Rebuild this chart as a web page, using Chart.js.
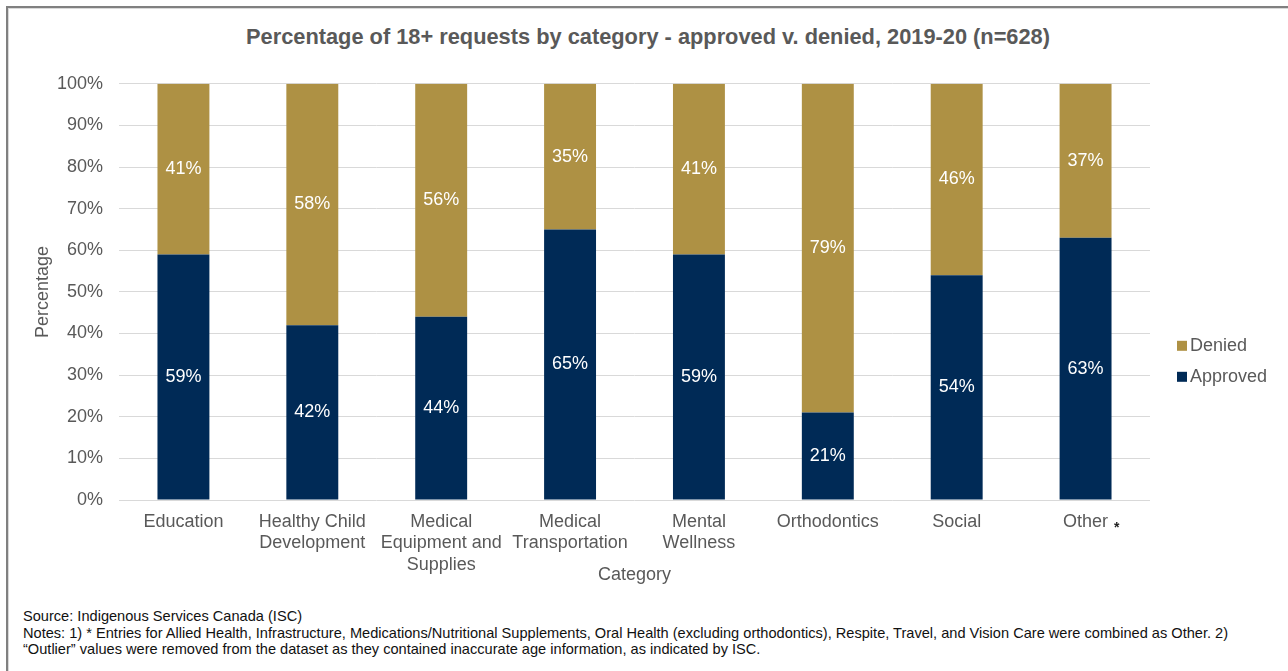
<!DOCTYPE html>
<html>
<head>
<meta charset="utf-8">
<script src="https://cdn.jsdelivr.net/npm/chart.js@4"></script>
<style>
    body { margin: 0; width: 1288px; height: 671px; overflow: hidden; background: #fff; font-family: "Liberation Sans", Arial, sans-serif; }
    #frame { position: absolute; left: 6px; top: 6px; width: 1300px; height: 700px; border-top: 2px solid #808080; border-left: 2px solid #808080; box-shadow: inset 1px 1px 0 #d9d9d9; }
    #title { position: absolute; top: 24px; left: 648px; transform: translateX(-50%); white-space: nowrap; font-size: 21.8px; font-weight: bold; color: #595959; }
    #chartBox { position: absolute; left: 8px; top: 57px; width: 1280px; height: 543px; }
    #notes { position: absolute; left: 23px; top: 608px; font-size: 14.6px; line-height: 16.5px; color: #111; white-space: nowrap; }
</style>
</head>
<body>
<div id="frame"></div>
<div id="title">Percentage of 18+ requests by category - approved v. denied, 2019-20 (n=628)</div>
<div id="chartBox"><canvas id="chart" width="1280" height="543"></canvas></div>
<div id="notes">
    Source: Indigenous Services Canada (ISC)<br>
    Notes: 1) * Entries for Allied Health, Infrastructure, Medications/Nutritional Supplements, Oral Health (excluding orthodontics), Respite, Travel, and Vision Care were combined as Other. 2)<br>
    “Outlier” values were removed from the dataset as they contained inaccurate age information, as indicated by ISC.
</div>
<script>
// Chart data
const categories = [
    'Education',
    ['Healthy Child', 'Development'],
    ['Medical', 'Equipment and', 'Supplies'],
    ['Medical', 'Transportation'],
    ['Mental', 'Wellness'],
    'Orthodontics',
    'Social',
    'Other'
];
const approved = [59, 42, 44, 65, 59, 21, 54, 63];
const denied = [41, 58, 56, 35, 41, 79, 46, 37];
const yTicks = [0, 10, 20, 30, 40, 50, 60, 70, 80, 90, 100];

const navy = '#002a56';
const gold = '#ae9144';
const grey = '#595959';
const fontFamily = '"Liberation Sans", Arial, sans-serif';

// White value labels in the middle of each segment
const segmentLabels = {
    id: 'segmentLabels',
    afterDatasetsDraw(chart) {
        const ctx = chart.ctx;
        ctx.save();
        ctx.fillStyle = '#ffffff';
        ctx.font = '18px ' + fontFamily;
        ctx.textAlign = 'center';
        ctx.textBaseline = 'middle';
        chart.data.datasets.forEach((ds, i) => {
            chart.getDatasetMeta(i).data.forEach((bar, j) => {
                ctx.fillText(ds.data[j] + '%', bar.x, (bar.y + bar.base) / 2);
            });
        });
        ctx.restore();
    }
};

// Legend on the right, plus the asterisk after "Other"
const sideLegend = {
    id: 'sideLegend',
    afterDraw(chart) {
        const ctx = chart.ctx;
        const area = chart.chartArea;
        ctx.save();
        ctx.font = '18px ' + fontFamily;
        ctx.textBaseline = 'middle';
        const items = chart.data.datasets.slice().reverse();
        items.forEach((ds, i) => {
            const x = area.right + 27;
            const y = area.top + 262 + i * 31;
            ctx.fillStyle = ds.backgroundColor;
            ctx.fillRect(x, y - 5, 10, 10);
            ctx.fillStyle = grey;
            ctx.fillText(ds.label, x + 13, y);
        });

        // asterisk next to the last category label
        const xScale = chart.scales.x;
        const last = categories.length - 1;
        const w = ctx.measureText(categories[last]).width;
        ctx.fillStyle = '#222';
        ctx.font = 'bold 14px ' + fontFamily;
        ctx.textAlign = 'left';
        ctx.textBaseline = 'alphabetic';
        ctx.fillText('*', xScale.getPixelForTick(last) + w / 2 + 6, area.bottom + 32);
        ctx.restore();
    }
};

const ctx = document.getElementById('chart').getContext('2d');
const chart = new Chart(ctx, {
    type: 'bar',
    data: {
        labels: categories,
        datasets: [
            {
                label: 'Approved',
                data: approved,
                backgroundColor: navy,
                barPercentage: 0.403,
                categoryPercentage: 1
            },
            {
                label: 'Denied',
                data: denied,
                backgroundColor: gold,
                barPercentage: 0.403,
                categoryPercentage: 1
            }
        ]
    },
    options: {
        responsive: false,
        animation: false,
        layout: {
            padding: { left: 24, right: 138, top: 19, bottom: 0 }
        },
        plugins: {
            legend: { display: false },
            tooltip: { enabled: false }
        },
        scales: {
            x: {
                stacked: true,
                grid: { display: false },
                border: { display: false },
                ticks: {
                    color: grey,
                    font: { family: fontFamily, size: 18, lineHeight: 1.2 },
                    padding: 3,
                    maxRotation: 0,
                    autoSkip: false
                },
                title: {
                    display: true,
                    text: 'Category',
                    color: grey,
                    font: { family: fontFamily, size: 18 },
                    padding: { top: 0, bottom: 14 }
                },
                afterFit(scale) {
                    scale.height = 100;
                }
            },
            y: {
                stacked: true,
                min: 0,
                max: 100,
                afterBuildTicks(scale) {
                    scale.ticks = yTicks.map(v => ({ value: v }));
                },
                grid: { color: '#d9d9d9', lineWidth: 1, drawTicks: false },
                border: { display: false },
                ticks: {
                    color: grey,
                    font: { family: fontFamily, size: 18 },
                    padding: 16,
                    callback: v => v + '%'
                },
                title: {
                    display: true,
                    text: 'Percentage',
                    color: grey,
                    font: { family: fontFamily, size: 18 },
                    padding: 0
                },
                afterFit(scale) {
                    scale.width = 87;
                }
            }
        }
    },
    plugins: [segmentLabels, sideLegend]
});
</script>
</body>
</html>
